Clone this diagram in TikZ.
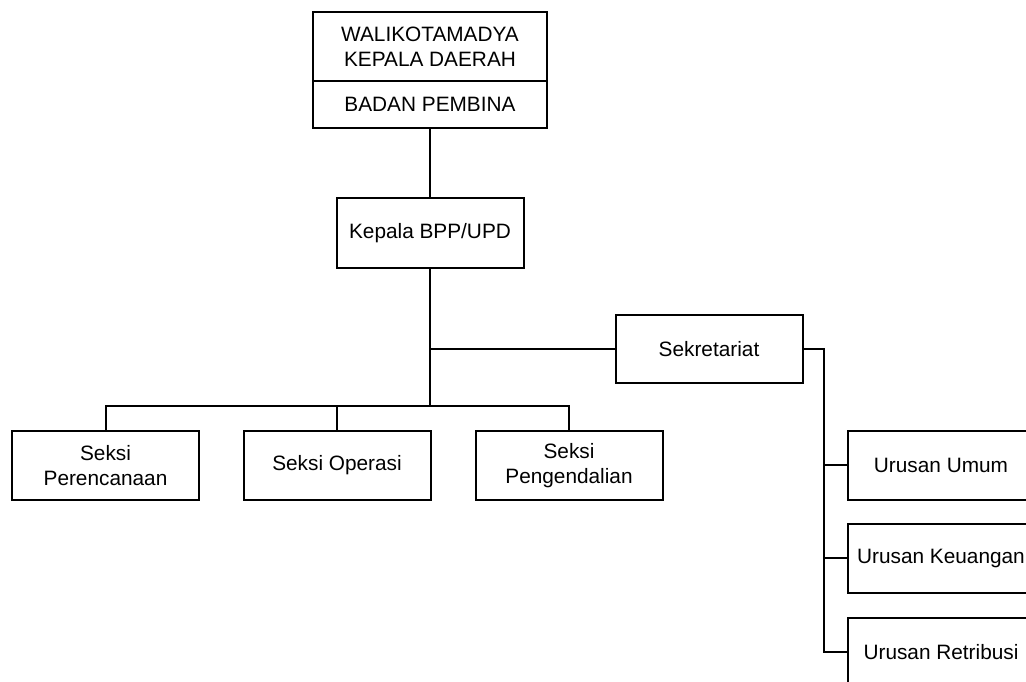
\documentclass[tikz,border=0pt]{standalone}
\usepackage{fontspec}
\setmainfont{Liberation Sans}
\usepackage{tikz}
\usepackage{xcolor}

\begin{document}
\begin{tikzpicture}[x=1pt, y=-1pt, line width=2pt,
  box/.style={rectangle, draw=black, line width=2pt, align=center, inner sep=0pt,
    minimum width=187pt, minimum height=69pt, font=\fontsize{20.8}{24.5}\selectfont}]
\useasboundingbox (0,0) rectangle (1026,682);
\node[box, minimum width=234pt, minimum height=69pt] (Wali) at (430,46.5) {WALIKOTAMADYA\\KEPALA DAERAH};
\node[box, minimum width=234pt, minimum height=47pt] (Pemb) at (430,104.5) {BADAN PEMBINA};
\node[box, minimum height=70pt] (Kep) at (430,233) {Kepala BPP/UPD};
\node[box, minimum height=68pt] (Sek) at (709,349) {Sekretariat};
\node[box] (SP) at (105.5,465.5) {Seksi\\Perencanaan};
\node[box] (SO) at (337,465.5) {Seksi Operasi};
\node[box] (SPg) at (569,465.5) {Seksi\\Pengendalian};
\node[box] (UU) at (941,465) {Urusan Umum};
\node[box] (UK) at (941,558) {Urusan Keuangan};
\node[box] (UR) at (941,652) {Urusan Retribusi};
\coordinate (Bus) at (430,406);
\coordinate (Spine) at (824,349);
\draw (Pemb.south) -- (Kep.north);
\draw (Kep.south) -- (Bus);
\draw (Kep.south |- Sek.west) -- (Sek.west);
\draw (SP.north) |- (Bus) -| (SPg.north);
\draw (SO.north) -- (SO.north |- Bus);
\draw (Sek.east) -- (Spine) |- (UR.west);
\draw (Spine |- UU.west) -- (UU.west);
\draw (Spine |- UK.west) -- (UK.west);
\end{tikzpicture}
\end{document}
